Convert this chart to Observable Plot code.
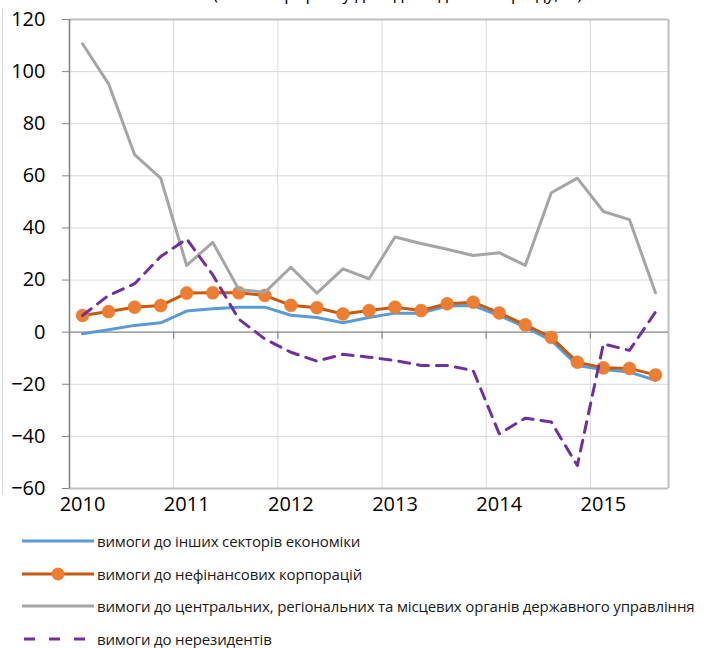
<!DOCTYPE html>
<html>
<head>
<meta charset="utf-8">
<script src="https://cdn.jsdelivr.net/npm/d3@7"></script>
<script src="https://cdn.jsdelivr.net/npm/@observablehq/plot@0.6"></script>
<style>
  html, body { margin: 0; padding: 0; background: #fff; }
  #wrap { position: relative; width: 710px; height: 648px; overflow: hidden; font-family: "Open Sans", sans-serif; }
  #titleclip { position: absolute; left: 0; top: 0; width: 710px; height: 6px; overflow: hidden; }
  #title { position: absolute; left: 213px; top: -18px; font-size: 17px; color: #000; white-space: nowrap; }
  #frameline { position: absolute; left: 2px; top: 8px; width: 1px; height: 487px; background: #d9d9d9; }
  #chart { position: absolute; left: 0; top: 0; }
  #legend { position: absolute; left: 0; top: 525px; width: 710px; }
  .row { display: flex; align-items: center; height: 32.5px; }
  .row svg { margin-left: 22px; margin-right: 3px; flex: none; }
  .row span { font-size: 15px; letter-spacing: -0.15px; color: #1a1a1a; white-space: nowrap; }
</style>
</head>
<body>
<div id="wrap">
  <div id="chart"></div>
  <div id="frameline"></div>
  <div id="titleclip"><div id="title">(темпи приросту до відповідного періоду, %)</div></div>
  <div id="legend"></div>
</div>
<script>
// Quarterly categories 2010 Q1 – 2015 Q3
const quarters = ["2010Q1","2010Q2","2010Q3","2010Q4","2011Q1","2011Q2","2011Q3","2011Q4",
  "2012Q1","2012Q2","2012Q3","2012Q4","2013Q1","2013Q2","2013Q3","2013Q4",
  "2014Q1","2014Q2","2014Q3","2014Q4","2015Q1","2015Q2","2015Q3"];
const years = ["2010","2011","2012","2013","2014","2015"];
const yTicks = [-60,-40,-20,0,20,40,60,80,100,120];

// series values (%)
const otherSectors = [-0.6, 0.9, 2.6, 3.6, 8.1, 9.0, 9.6, 9.6, 6.5, 5.6, 3.6, 5.6,
  7.3, 7.3, 10.0, 10.2, 6.4, 1.9, -3.2, -12.8, -14.3, -15.3, -18.5];
const nonFinCorps = [6.4, 7.9, 9.6, 10.2, 15.0, 15.1, 15.1, 14.1, 10.3, 9.4, 7.0, 8.3,
  9.6, 8.3, 10.9, 11.5, 7.4, 2.8, -2.0, -11.5, -13.7, -13.9, -16.4];
const government = [110.7, 95.3, 68.1, 59.1, 25.6, 34.5, 16.4, 15.3, 24.9, 15.0, 24.3, 20.5,
  36.5, 34.0, 31.8, 29.4, 30.5, 25.6, 53.5, 59.1, 46.3, 43.2, 15.1];
const nonResidents = [6.4, 14.1, 18.6, 29.0, 35.8, 22.0, 5.0, -2.6, -7.7, -11.1, -8.5, -9.6,
  -10.9, -12.8, -12.8, -14.7, -39.0, -33.0, -34.5, -51.2, -4.5, -7.0, 7.7];

const seriesNames = [
  "вимоги до інших секторів економіки",
  "вимоги до нефінансових корпорацій",
  "вимоги до центральних, регіональних та місцевих органів державного управління",
  "вимоги до нерезидентів"
];
const colors = {blue: "#5b9bd5", orangeLine: "#c55a11", orangeDot: "#ed7d31", gray: "#a5a5a5", purple: "#7030a0"};

const n = quarters.length;
const cx = (d, i) => i + 0.5;                       // category centre
const yearStarts = years.map((y, k) => k * 4);      // category boundary of each year
const yearLabelPos = years.map((y, k) => k * 4 + 0.5);
const grid = yTicks.filter(v => v !== 0 && v !== yTicks[0] && v !== yTicks[yTicks.length - 1]);

const chart = Plot.plot({
  width: 710,
  height: 525,
  marginLeft: 69,
  marginRight: 42,
  marginTop: 19,
  marginBottom: 37,
  x: {type: "linear", domain: [0, n]},
  y: {domain: [yTicks[0], yTicks[yTicks.length - 1]]},
  style: {fontFamily: "'Open Sans', sans-serif", fontSize: "20px", color: "#000", background: "#fff", overflow: "visible"},
  marks: [
    Plot.ruleY(grid, {stroke: "#d9d9d9", strokeWidth: 1}),
    Plot.ruleX(yearStarts.slice(1), {stroke: "#d9d9d9", strokeWidth: 1}),
    Plot.ruleY([yTicks[yTicks.length - 1], yTicks[0]], {stroke: "#bfbfbf", strokeWidth: 2}),
    Plot.ruleX([n], {stroke: "#bfbfbf", strokeWidth: 2}),
    Plot.ruleY([0], {stroke: "#868686", strokeWidth: 1.2}),
    Plot.ruleX(yearStarts.slice(1), {y1: 0, y2: 0, insetBottom: -7, stroke: "#868686", strokeWidth: 1.2}),
    Plot.ruleX([0], {stroke: "#868686", strokeWidth: 1.6}),
    Plot.axisY({ticks: yTicks, tickSize: 7, tickPadding: 17, stroke: "#868686", fill: "#000", label: null, fontSize: 20}),
    Plot.axisX({ticks: yearLabelPos, tickFormat: d => years[Math.round((d - 0.5) / 4)], tickSize: 0, tickPadding: 8, label: null, fill: "#000", fontSize: 20}),
    Plot.line(otherSectors, {x: cx, y: d => d, stroke: colors.blue, strokeWidth: 3, strokeLinejoin: "round"}),
    Plot.line(nonFinCorps, {x: cx, y: d => d, stroke: colors.orangeLine, strokeWidth: 3, strokeLinejoin: "round"}),
    Plot.dot(nonFinCorps, {x: cx, y: d => d, r: 6.5, fill: colors.orangeDot, stroke: colors.orangeDot, strokeWidth: 0.5}),
    Plot.line(government, {x: cx, y: d => d, stroke: colors.gray, strokeWidth: 3, strokeLinejoin: "round"}),
    Plot.line(nonResidents, {x: cx, y: d => d, stroke: colors.purple, strokeWidth: 3, strokeDasharray: "11,8"})
  ]
});
document.getElementById("chart").appendChild(chart);

// Legend
const swatches = [
  `<line x1="0" y1="8" x2="72" y2="8" stroke="${colors.blue}" stroke-width="3"/>`,
  `<line x1="0" y1="8" x2="72" y2="8" stroke="${colors.orangeLine}" stroke-width="3"/><circle cx="36" cy="8" r="6.5" fill="${colors.orangeDot}"/>`,
  `<line x1="0" y1="8" x2="72" y2="8" stroke="${colors.gray}" stroke-width="3"/>`,
  `<line x1="2" y1="8" x2="72" y2="8" stroke="${colors.purple}" stroke-width="3" stroke-dasharray="11,14"/>`
];
const legend = document.getElementById("legend");
seriesNames.forEach((name, i) => {
  const row = document.createElement("div");
  row.className = "row";
  row.innerHTML = `<svg width="72" height="16">${swatches[i]}</svg><span>${name}</span>`;
  legend.appendChild(row);
});
</script>
</body>
</html>
